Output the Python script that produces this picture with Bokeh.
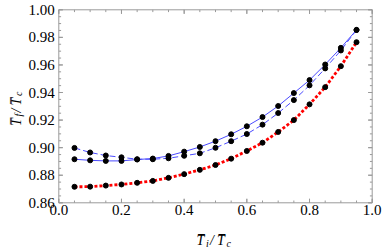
import math
from bokeh.plotting import figure
from bokeh.models import Range1d, Label
from bokeh.core.properties import value
from bokeh.embed import file_html
from bokeh.resources import INLINE

# ---- data ----
ti = [0.05, 0.10, 0.15, 0.20, 0.25, 0.30, 0.35, 0.40, 0.45, 0.50,
      0.55, 0.60, 0.65, 0.70, 0.75, 0.80, 0.85, 0.90, 0.95]
tf_solid = [0.8916, 0.8908, 0.8904, 0.8904, 0.8914, 0.8921, 0.8940, 0.8971, 0.9005, 0.9047,
            0.9097, 0.9155, 0.9222, 0.9302, 0.9396, 0.9490, 0.9603, 0.9724, 0.9854]
tf_dashed = [0.8998, 0.8965, 0.8943, 0.8930, 0.8916, 0.8916, 0.8923, 0.8941, 0.8959, 0.8999,
             0.9047, 0.9099, 0.9167, 0.9251, 0.9345, 0.9452, 0.9575, 0.9705, 0.9854]
tf_red = [0.8716, 0.8717, 0.8725, 0.8733, 0.8745, 0.8759, 0.8781, 0.8808, 0.8839, 0.8874,
          0.8920, 0.8976, 0.9036, 0.9114, 0.9200, 0.9314, 0.9439, 0.9591, 0.9765]
x_ticks = [0.0, 0.2, 0.4, 0.6, 0.8, 1.0]
x_tick_labels = ["0.0", "0.2", "0.4", "0.6", "0.8", "1.0"]
x_minor = [round(0.05 * k, 2) for k in range(21)]
y_ticks = [0.86, 0.88, 0.90, 0.92, 0.94, 0.96, 0.98, 1.00]
y_tick_labels = ["0.86", "0.88", "0.90", "0.92", "0.94", "0.96", "0.98", "1.00"]
y_minor = [round(0.86 + 0.005 * k, 3) for k in range(29)]

X0, X1, Y0, Y1 = 0.0, 1.0, 0.86, 1.00

# ---- layout in picture pixels (canvas origin = picture origin) ----
W, H = 382, 248
FL, FR, FT, FB = 58.3, 371.7, 9.3, 202.3   # plot box edges
ppx = (FR - FL) / (X1 - X0)
ppy = (FB - FT) / (Y1 - Y0)


def dx(px):
    return X0 + (px - FL) / ppx


def dy(py):
    return Y0 + (FB - py) / ppy


p = figure(width=W, height=H, output_backend="svg", toolbar_location=None,
           x_range=Range1d(dx(0), dx(W)), y_range=Range1d(dy(H), dy(0)),
           x_axis_type=None, y_axis_type=None, min_border=0)
p.outline_line_color = None
p.background_fill_color = "white"
p.border_fill_color = "white"
p.grid.visible = False

FRAME_COL = "#9a9a9a"
FONT = "Liberation Serif"

# frame
p.quad(left=X0, right=X1, bottom=Y0, top=Y1, fill_color=None, line_color=FRAME_COL, line_width=1)

# ticks (inward, on all four sides)
MAJ, MIN = 4, 2.3
xs0, xs1, ys0, ys1 = [], [], [], []
for t in x_ticks + x_minor:
    L = (MAJ if t in x_ticks else MIN) / ppy
    xs0 += [t, t]; xs1 += [t, t]
    ys0 += [Y0, Y1]; ys1 += [Y0 + L, Y1 - L]
for t in y_ticks + y_minor:
    L = (MAJ if t in y_ticks else MIN) / ppx
    xs0 += [X0, X1]; xs1 += [X0 + L, X1 - L]
    ys0 += [t, t]; ys1 += [t, t]
p.segment(x0=xs0, y0=ys0, x1=xs1, y1=ys1, line_color=FRAME_COL, line_width=1)

# tick labels
p.text(x=x_ticks, y=[dy(FB + 2.5)] * len(x_ticks), text=x_tick_labels,
       text_font=value(FONT), text_font_size="15px", text_align="center",
       text_baseline="top", text_color="black")
p.text(x=[dx(FL - 4)] * len(y_ticks), y=y_ticks, text=y_tick_labels,
       text_font=value(FONT), text_font_size="15px", text_align="right",
       text_baseline="middle", text_color="black")

# series
BLUE = "#4b4bff"
p.line(ti, tf_solid, line_color=BLUE, line_width=1)
p.line(ti, tf_dashed, line_color=BLUE, line_width=1, line_dash="6 3")
p.line(ti, tf_red, line_color="#ff0000", line_width=2.8, line_dash="3 2")
p.scatter(ti * 3, tf_solid + tf_dashed + tf_red, size=5, color="black")

# axis labels built from pieces
TB = "T\u0305"
pieces_x = [(TB, 196, 240, "14px"), ("i", 205.5, 242.5, "10px"), ("/", 209.5, 240, "14px"),
            (TB, 216.5, 240, "14px"), ("c", 226, 242.5, "10px")]
for t, px, py, fs in pieces_x:
    p.add_layout(Label(x=dx(px), y=dy(py), text=t, text_font=FONT, text_font_style="italic",
                       text_font_size=fs, text_align="left", text_baseline="alphabetic",
                       text_color="black"))

pieces_y = [(TB, 15.5, 125.5, "14px"), ("f", 18, 116, "10px"), ("/", 15.5, 112, "14px"),
            (TB, 15.5, 105, "14px"), ("c", 18, 95.5, "10px")]
for t, px, py, fs in pieces_y:
    p.add_layout(Label(x=dx(px), y=dy(py), text=t, text_font=FONT, text_font_style="italic",
                       text_font_size=fs, text_align="left", text_baseline="alphabetic",
                       angle=math.pi / 2, text_color="black"))

open("out.html", "w").write(file_html(p, INLINE))
